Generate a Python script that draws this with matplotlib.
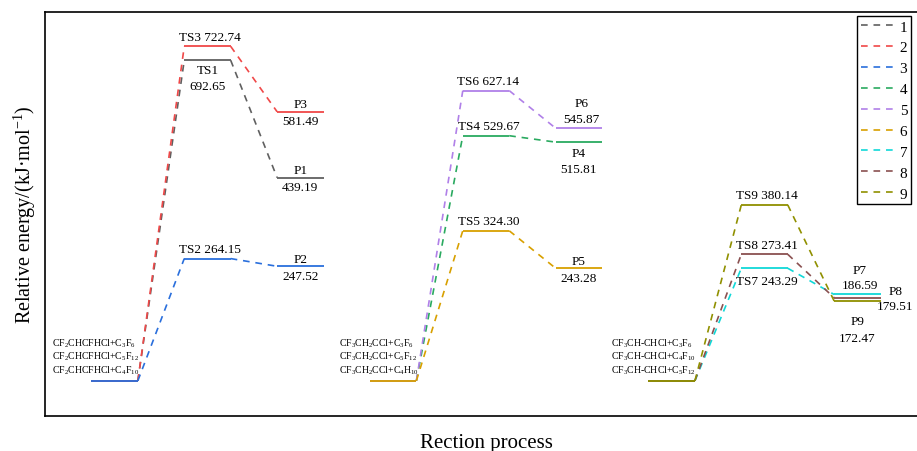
import matplotlib
matplotlib.use('Agg')
import matplotlib.pyplot as plt

plt.rcParams['font.family'] = ['Liberation Serif', 'DejaVu Serif']
plt.rcParams['mathtext.fontset'] = 'custom'
plt.rcParams['mathtext.rm'] = 'Liberation Serif'
plt.rcParams['mathtext.it'] = 'Liberation Serif:italic'

# reaction paths 1..9
paths = ['1', '2', '3', '4', '5', '6', '7', '8', '9']
group = [0, 0, 0, 1, 1, 1, 2, 2, 2]
ts_names = ['TS1', 'TS3', 'TS2', 'TS4', 'TS6', 'TS5', 'TS7', 'TS8', 'TS9']
p_names = ['P1', 'P3', 'P2', 'P4', 'P6', 'P5', 'P7', 'P8', 'P9']
ts_energy = [692.65, 722.74, 264.15, 529.67, 627.14, 324.30, 243.29, 273.41, 380.14]
p_energy = [439.19, 581.49, 247.52, 515.81, 545.87, 243.28, 186.59, 179.51, 172.47]
colors = ['#606060', '#f04848', '#2a6fdc', '#2aaa60', '#b080e8',
          '#d8a000', '#10d8d8', '#8a5050', '#909000']

reactants = [
    [r'CF$_2$CHCFHCl+C$_3$F$_6$', r'CF$_2$CHCFHCl+C$_5$F$_{12}$', r'CF$_2$CHCFHCl+C$_4$F$_{10}$'],
    [r'CF$_3$CH$_2$CCl+C$_3$F$_6$', r'CF$_3$CH$_2$CCl+C$_5$F$_{12}$', r'CF$_3$CH$_2$CCl+C$_4$H$_{10}$'],
    [r'CF$_3$CH-CHCl+C$_3$F$_6$', r'CF$_3$CH-CHCl+C$_4$F$_{10}$', r'CF$_3$CH-CHCl+C$_5$F$_{12}$'],
]

fig = plt.figure(figsize=(9.17, 4.52), dpi=100)
ax = fig.add_axes([45 / 917, 1 - 417 / 452, 882 / 917, 404 / 452])

dash = (4, 3.5)
for i in range(len(paths)):
    x0 = 6 * group[i]
    c = colors[i]
    ts = ts_energy[i]
    p = p_energy[i]
    # levels
    ax.plot([x0, x0 + 1], [0, 0], color=c, lw=1.3, solid_capstyle='butt')
    ax.plot([x0 + 2, x0 + 3], [ts, ts], color=c, lw=1.3, solid_capstyle='butt')
    ax.plot([x0 + 4, x0 + 5], [p, p], color=c, lw=1.3, solid_capstyle='butt')
    # connectors
    ax.plot([x0 + 1, x0 + 2], [0, ts], color=c, lw=1.2, dashes=dash, label=paths[i])
    ax.plot([x0 + 3, x0 + 4], [ts, p], color=c, lw=1.2, dashes=dash)

fs = 9.5
ls = 1.4
# transition state labels
for i in range(len(paths)):
    x0 = 6 * group[i]
    ts = ts_energy[i]
    lab = ts_names[i]
    if lab == 'TS1':
        ax.text(x0 + 2.5, ts - 9, '%s\n%.2f' % (lab, ts), ha='center', va='top',
                fontsize=fs, linespacing=ls)
    elif lab == 'TS7':
        ax.text(x0 + 2.55, ts - 15, '%s %.2f' % (lab, ts), ha='center', va='top', fontsize=fs)
    else:
        ax.text(x0 + 2.55, ts + 8, '%s %.2f' % (lab, ts), ha='center', va='bottom', fontsize=fs)

# product labels
for i in range(len(paths)):
    x0 = 6 * group[i]
    p = p_energy[i]
    lab = p_names[i]
    if lab in ('P6', 'P7'):
        ax.text(x0 + 4.55, p + 7, '%s\n%.2f' % (lab, p), ha='center', va='bottom',
                fontsize=fs, linespacing=ls)
    elif lab == 'P4':
        ax.text(x0 + 4.5, p - 11, '%s\n%.2f' % (lab, p), ha='center', va='top',
                fontsize=fs, linespacing=ls)
    elif lab == 'P9':
        ax.text(x0 + 4.5, p - 30, '%s\n%.2f' % (lab, p), ha='center', va='top',
                fontsize=fs, linespacing=1.6)
    elif lab == 'P8':
        ax.text(x0 + 5.32, p - 2, '%s\n%.2f' % (lab, p), ha='center', va='center',
                fontsize=fs, linespacing=ls)
    else:
        ax.text(x0 + 4.5, p + 3, lab, ha='center', va='bottom', fontsize=fs)
        ax.text(x0 + 4.5, p - 8, '%.2f' % p, ha='center', va='top', fontsize=fs)

# reactant labels
rx = [-0.84, 5.34, 11.2]
for g in range(3):
    for k, y in enumerate([82, 54, 24]):
        ax.text(rx[g], y, reactants[g][k], ha='left', va='center', fontsize=7)

ax.set_xlim(-1, 18)
ax.set_ylim(-76, 797)
ax.set_xticks([])
ax.set_yticks([])
for s in ax.spines.values():
    s.set_linewidth(1.2)

ax.set_xlabel('Rection process', fontsize=15, labelpad=12)
ax.set_ylabel('Relative energy/(kJ·mol$^{-1}$)', fontsize=14.5, labelpad=5)

leg = ax.legend(loc='upper right', bbox_to_anchor=(0.982, 0.99), fontsize=11,
                handlelength=2.4, handletextpad=0.15, labelspacing=0.47,
                borderpad=0.25, borderaxespad=0, fancybox=False,
                edgecolor='black', framealpha=1)
leg.get_frame().set_linewidth(1.0)

fig.savefig('out.png', dpi=100)
